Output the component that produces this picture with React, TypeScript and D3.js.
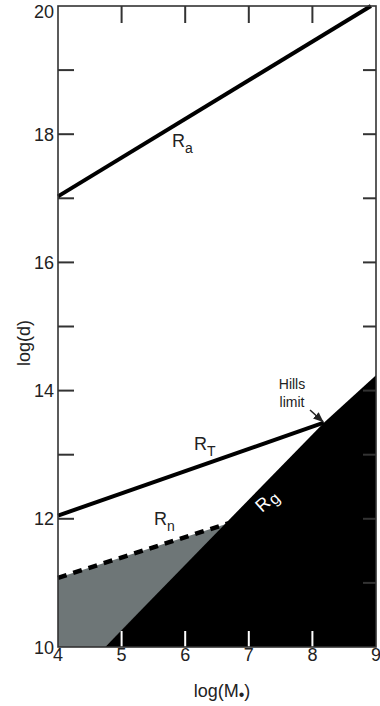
import React from 'react';
import * as d3 from 'd3';

// axis ranges and tick labels
const xDomain = [4, 9];
const yDomain = [10, 20];
const xTickVals = [4, 5, 6, 7, 8, 9];
const yTickVals = [10, 12, 14, 16, 18, 20];
const yMinorVals = [11, 12, 13, 14, 15, 16, 17, 18, 19];
const xInnerTicks = [5, 6, 7, 8];

// curves: [log M, log d]
const raLine = [[4, 17.03], [8.92, 20]];
const rtLine = [[4, 12.05], [8.18, 13.5]];
const rnLine = [[4, 11.08], [6.68, 11.93]];
const rgEdge = [[4.74, 10], [8.18, 13.5], [9, 14.24]];
const hillsPoint = [8.18, 13.5];

const W = 380;
const H = 706;
const m = { left: 58, right: 4, top: 6, bottom: 59 };

export default function App() {
  const x = d3.scaleLinear().domain(xDomain).range([m.left, W - m.right]);
  const y = d3.scaleLinear().domain(yDomain).range([H - m.bottom, m.top]);
  const line = d3.line<number[]>().x(d => x(d[0])).y(d => y(d[1]));

  const greyPoly = [[4, 10], ...rnLine, [rgEdge[0][0], 10]];
  const blackPoly = [...rgEdge, [9, 10]];
  const x0 = x(4), x1 = x(9), y0 = y(10), y1 = y(20);
  const font = 'Liberation Sans, Arial, Helvetica, sans-serif';
  const hx = x(hillsPoint[0]), hy = y(hillsPoint[1]);

  return (
    <svg width={W} height={H} style={{ position: 'absolute', left: 0, top: 0 }} fontFamily={font}>
      <defs>
        <marker id="arr" viewBox="0 0 10 10" refX="9" refY="5" markerWidth="7" markerHeight="7" orient="auto">
          <path d="M0,1 L10,5 L0,9 z" fill="#222" />
        </marker>
      </defs>
      {/* left ticks sit under the fills */}
      {yMinorVals.map(v => (
        <line key={'l' + v} x1={x0} x2={x0 + 16} y1={y(v)} y2={y(v)} stroke="#333" strokeWidth={2} />
      ))}
      <path d={line(greyPoly as any) + 'Z'} fill="#6e7677" />
      <path d={line(blackPoly as any) + 'Z'} fill="#000" />
      {yMinorVals.map(v => (
        <line key={'r' + v} x1={x1 - 13} x2={x1} y1={y(v)} y2={y(v)} stroke="#333" strokeWidth={2} />
      ))}
      {xInnerTicks.map(v => (
        <line key={'t' + v} x1={x(v)} x2={x(v)} y1={y1} y2={y1 + 17} stroke="#333" strokeWidth={2} />
      ))}
      {xInnerTicks.map(v => (
        <line key={'b' + v} x1={x(v)} x2={x(v)} y1={y0} y2={y0 - 16} stroke="#fff" strokeWidth={2} />
      ))}
      <path d={line(rnLine as any) || ''} fill="none" stroke="#000" strokeWidth={4.5} strokeDasharray="9,7" />
      <path d={line(rtLine as any) || ''} fill="none" stroke="#000" strokeWidth={4} />
      <path d={line(raLine as any) || ''} fill="none" stroke="#000" strokeWidth={4} />
      <rect x={x0} y={y1} width={x1 - x0} height={y0 - y1} fill="none" stroke="#333" strokeWidth={1.6} />

      {/* tick labels */}
      {yTickVals.map(v => (
        <text key={'yl' + v} x={x0 - 4} y={v === 20 ? y(v) + 12 : y(v) + 6.5} textAnchor="end" fontSize={18} fill="#222">{v}</text>
      ))}
      {xTickVals.map(v => (
        <text key={'xl' + v} x={x(v)} y={y0 + 14} textAnchor="middle" fontSize={18} fill="#222">{v}</text>
      ))}
      <text x={222} y={697} textAnchor="middle" fontSize={18} fill="#222">
        log(M<tspan dy={3} fontSize={16}>•</tspan><tspan dy={-3}>)</tspan>
      </text>
      <text transform={`translate(30,343) rotate(-90)`} textAnchor="middle" fontSize={18} fill="#222">log(d)</text>

      {/* curve labels */}
      <text x={172} y={147} fontSize={18} fill="#222">R<tspan dy={6} fontSize={14}>a</tspan></text>
      <text x={194} y={450} fontSize={18} fill="#222">R<tspan dy={6} fontSize={14}>T</tspan></text>
      <text x={154} y={525} fontSize={18} fill="#222">R<tspan dy={6} fontSize={14}>n</tspan></text>
      <text transform="translate(262,513) rotate(-42)" fontSize={18} fill="#fff">R<tspan dx={1} dy={3} fontSize={16}>g</tspan></text>
      <text x={292} y={389} textAnchor="middle" fontSize={14} fill="#222">Hills</text>
      <text x={292} y={407} textAnchor="middle" fontSize={14} fill="#222">limit</text>
      <line x1={310} y1={410} x2={hx - 1} y2={hy - 1} stroke="#222" strokeWidth={1.5} markerEnd="url(#arr)" />
    </svg>
  );
}
